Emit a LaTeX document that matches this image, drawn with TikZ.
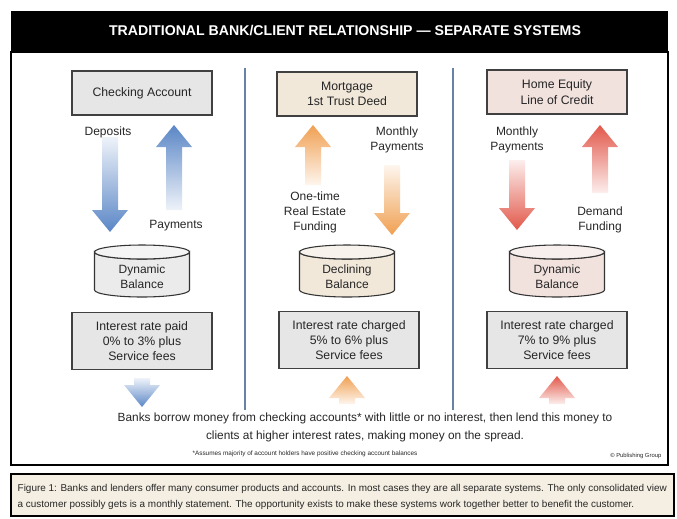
\documentclass[tikz,border=0pt]{standalone}
\usepackage{fontspec}
\setmainfont{Liberation Sans}
\setsansfont{Liberation Sans}
\usetikzlibrary{positioning}

% block arrow: shading, x, tail y, tip y
\newcommand{\flowarrow}[4]{%
  \pgfmathsetmacro{\headbase}{#4>#3 ? #4-22 : #4+22}%
  \shade[#1] (#2-8,#3) -- (#2-8,\headbase) -- (#2-18,\headbase) -- (#2,#4)
    -- (#2+18,\headbase) -- (#2+8,\headbase) -- (#2+8,#3) -- cycle;
}

\tikzset{
  panel/.style={draw=black!75, line width=0.9pt, minimum width=105pt, align=center,
    inner sep=2pt, text=black!85, font=\fontsize{9.2}{11.5}\selectfont},
  toppanel/.style={panel, minimum height=33pt},
  ratepanel/.style={panel, minimum height=43pt, fill=panelgray},
  flowlabel/.style={align=center, text=black!85, font=\fontsize{9}{11.3}\selectfont},
  divider/.style={draw=dividerblue, line width=2.2pt},
  fade down/.style={top color=#1!10, bottom color=#1},
  fade up/.style={top color=#1, bottom color=#1!10},
  pics/drum/.style={code={
    \filldraw[fill=#1, draw=black!80, line width=0.8pt]
      (-47.5,-19) -- (-47.5,19) arc[start angle=180, end angle=360, x radius=35.625pt, y radius=5.25pt]
      -- (47.5,-19) arc[start angle=0, end angle=-180, x radius=35.625pt, y radius=5.25pt] -- cycle;
    \filldraw[fill=#1!55!white, draw=black!80, line width=0.8pt]
      (0,-19) ellipse[x radius=35.625pt, y radius=5.25pt];
  }},
}

\begin{document}
\begin{tikzpicture}[x=0.75pt, y=-0.75pt, font=\sffamily]

    % Colours
    \definecolor{panelgray}{HTML}{E6E6E6}
    \definecolor{drumgray}{HTML}{EBEBEB}
    \definecolor{mortgagetan}{HTML}{F1E8DA}
    \definecolor{helocpink}{HTML}{F1E2DE}
    \definecolor{dividerblue}{HTML}{6683A3}
    \definecolor{flowblue}{HTML}{5A86C6}
    \definecolor{floworange}{HTML}{F0A052}
    \definecolor{flowred}{HTML}{E2584A}
    \definecolor{captionbeige}{HTML}{F5EFE3}

    \useasboundingbox (0,0) rectangle (677,518);

    % ===== TITLE BAR AND FRAME =====
    \fill[black] (11,11) rectangle (668,52);
    \node[text=white, font=\bfseries\fontsize{10.6}{12}\selectfont] (title) at (345,31)
        {TRADITIONAL BANK/CLIENT RELATIONSHIP --- SEPARATE SYSTEMS};
    \draw[line width=1.2pt] (11,52) rectangle (668,465);

    % column dividers
    \draw[divider] (245,68) -- (245,410);
    \draw[divider] (453,68) -- (453,410);

    % ===== 1. CHECKING =====
    \node[toppanel, fill=panelgray] (checking) at (142,93) {Checking Account};
    \flowarrow{fade down=flowblue}{110}{137}{232}
    \flowarrow{fade up=flowblue}{174}{210}{125}
    \node[flowlabel] (deposits) at (108,132) {Deposits};
    \node[flowlabel] (payments) at (176,226) {Payments};
    \pic at (142,271) {drum=drumgray};
    \node[flowlabel] (bal1) at (142,277) {Dynamic\\Balance};
    \node[ratepanel] (rate1) at (142,341) {Interest rate paid\\0\% to 3\% plus\\Service fees};
    \flowarrow{fade down=flowblue}{142}{378}{407}

    % ===== 2. MORTGAGE =====
    \node[toppanel, fill=mortgagetan] (mortgage) at (347,94) {Mortgage\\1st Trust Deed};
    \flowarrow{fade up=floworange}{313}{185}{125}
    \flowarrow{fade down=floworange}{392}{165}{235}
    \node[flowlabel] (monthly2) at (397,140) {Monthly\\Payments};
    \node[flowlabel] (onetime) at (315,212) {One-time\\Real Estate\\Funding};
    \pic at (347,271) {drum=mortgagetan};
    \node[flowlabel] (bal2) at (347,277) {Declining\\Balance};
    \node[ratepanel] (rate2) at (349,340) {Interest rate charged\\5\% to 6\% plus\\Service fees};
    \flowarrow{fade up=floworange}{347}{404}{376}

    % ===== 3. HOME EQUITY =====
    \node[toppanel, fill=helocpink] (heloc) at (557,92) {Home Equity\\Line of Credit};
    \flowarrow{fade down=flowred}{517}{160}{230}
    \flowarrow{fade up=flowred}{600}{193}{125}
    \node[flowlabel] (monthly3) at (517,140) {Monthly\\Payments};
    \node[flowlabel] (demand) at (600,220) {Demand\\Funding};
    \pic at (557,271) {drum=helocpink};
    \node[flowlabel] (bal3) at (557,277) {Dynamic\\Balance};
    \node[ratepanel] (rate3) at (557,340) {Interest rate charged\\7\% to 9\% plus\\Service fees};
    \flowarrow{fade up=flowred}{557}{404}{376}

    % ===== 4. SUMMARY TEXT =====
    \node[align=center, text=black!85, font=\fontsize{8.9}{13.5}\selectfont] (summary) at (365,427)
        {Banks borrow money from checking accounts* with little or no interest, then lend this money to\\
         clients at higher interest rates, making money on the spread.};
    \node[text=black!85, font=\fontsize{4.8}{6}\selectfont] (footnote) at (305,454)
        {*Assumes majority of account holders have positive checking account balances};
    \node[anchor=east, text=black!85, font=\fontsize{4.4}{6}\selectfont] (credit) at (666,456)
        {\copyright\ Publishing Group};

    % ===== 5. CAPTION =====
    \draw[fill=captionbeige, line width=1.2pt] (11,474) rectangle (674,516);
    \node[anchor=west, align=left, text=black!85, font=\fontsize{7.45}{12.5}\selectfont] (caption) at (13,497)
        {Figure 1: Banks and lenders offer many consumer products and accounts. In most cases they are all separate systems. The only consolidated view\\
         a customer possibly gets is a monthly statement. The opportunity exists to make these systems work together better to benefit the customer.};

\end{tikzpicture}
\end{document}
